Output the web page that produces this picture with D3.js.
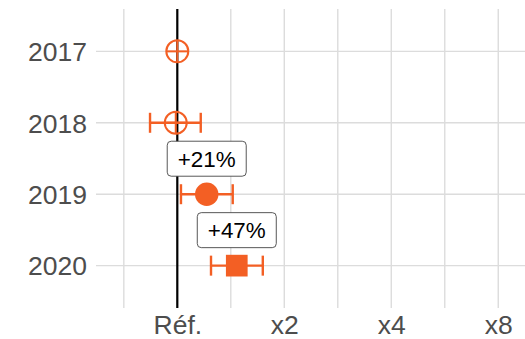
<!DOCTYPE html>
<html>
<head>
<meta charset="utf-8">
<script src="https://cdn.jsdelivr.net/npm/d3@7"></script>
<style>
  html, body { margin: 0; padding: 0; background: #fff; }
  svg { display: block; font-family: "Liberation Sans", Arial, sans-serif; }
</style>
</head>
<body>
<svg id="chart" width="525" height="339"></svg>
<script>
// Yearly ratios relative to the reference year, with confidence bounds
const years = ["2017", "2018", "2019", "2020"];
const ratio = [1.00, 0.99, 1.21, 1.47];
const lower = [1.00, 0.838, 1.024, 1.244];
const upper = [1.00, 1.164, 1.432, 1.74];
const shapes = ["open", "open", "circle", "square"];
const labels = [null, null, "+21%", "+47%"];

const xTickValues = [1, 2, 4, 8];
const xTickLabels = ["Réf.", "x2", "x4", "x8"];
const xMinorValues = [Math.SQRT1_2, Math.SQRT2, 2 * Math.SQRT2, 4 * Math.SQRT2];

const orange = "#f35f24";
const gridColor = "#dcdcdc";

const svg = d3.select("#chart");
const panel = { left: 96, right: 525, top: 9, bottom: 308 };

const x = d3.scaleLog().base(2)
  .domain([Math.pow(2, -0.76), Math.pow(2, 3.25)])
  .range([panel.left, panel.right]);

const y = d3.scalePoint()
  .domain(years)
  .range([panel.top, panel.bottom])
  .padding(0.593);

// Gridlines
const grid = svg.append("g");
grid.selectAll("line.v")
  .data(xTickValues.concat(xMinorValues))
  .join("line")
  .attr("x1", d => x(d)).attr("x2", d => x(d))
  .attr("y1", panel.top).attr("y2", panel.bottom)
  .attr("stroke", gridColor).attr("stroke-width", 1.4);
grid.selectAll("line.h")
  .data(years)
  .join("line")
  .attr("x1", panel.left).attr("x2", panel.right)
  .attr("y1", d => y(d)).attr("y2", d => y(d))
  .attr("stroke", gridColor).attr("stroke-width", 1.4);

// Axes (text only)
const yAxis = svg.append("g")
  .attr("transform", `translate(${panel.left},0)`)
  .call(d3.axisLeft(y).tickSize(0).tickPadding(9));
yAxis.select(".domain").remove();
yAxis.selectAll("text")
  .attr("font-size", 26.5).attr("fill", "#4d4d4d")
  .attr("font-family", "Liberation Sans, Arial, sans-serif")
  .attr("dy", "0.35em");

const xAxis = svg.append("g")
  .attr("transform", `translate(0,${panel.bottom})`)
  .call(d3.axisBottom(x).tickValues(xTickValues)
    .tickFormat((d, i) => xTickLabels[i]).tickSize(0).tickPadding(7));
xAxis.select(".domain").remove();
xAxis.selectAll("text")
  .attr("font-size", 26.5).attr("fill", "#4d4d4d")
  .attr("font-family", "Liberation Sans, Arial, sans-serif")
  .attr("dy", "0.71em");

// Reference line at ratio 1
svg.append("line")
  .attr("x1", x(1)).attr("x2", x(1))
  .attr("y1", panel.top).attr("y2", panel.bottom)
  .attr("stroke", "#000").attr("stroke-width", 2.2);

const rows = years.map((yr, i) => ({
  year: yr, r: ratio[i], lo: lower[i], hi: upper[i], shape: shapes[i], label: labels[i]
}));

// Error bars
const eb = svg.append("g").attr("stroke", orange).attr("stroke-width", 2.4).attr("fill", "none");
const capH = 10;
rows.filter(d => d.hi > d.lo).forEach(d => {
  const cy = y(d.year);
  eb.append("line").attr("x1", x(d.lo)).attr("x2", x(d.hi)).attr("y1", cy).attr("y2", cy);
  eb.append("line").attr("x1", x(d.lo)).attr("x2", x(d.lo)).attr("y1", cy - capH).attr("y2", cy + capH);
  eb.append("line").attr("x1", x(d.hi)).attr("x2", x(d.hi)).attr("y1", cy - capH).attr("y2", cy + capH);
});

// Points
const pts = svg.append("g");
rows.forEach(d => {
  const cx = x(d.r), cy = y(d.year);
  if (d.shape === "open") {
    const r = 11;
    const g = pts.append("g").attr("stroke", orange).attr("stroke-width", 2).attr("fill", "none");
    g.append("circle").attr("cx", cx).attr("cy", cy).attr("r", r);
    g.append("line").attr("x1", cx - r).attr("x2", cx + r).attr("y1", cy).attr("y2", cy);
    g.append("line").attr("x1", cx).attr("x2", cx).attr("y1", cy - r).attr("y2", cy + r);
  } else if (d.shape === "circle") {
    pts.append("circle").attr("cx", cx).attr("cy", cy).attr("r", 11.7).attr("fill", orange);
  } else {
    const s = 21.7;
    pts.append("rect").attr("x", cx - s / 2).attr("y", cy - s / 2)
      .attr("width", s).attr("height", s).attr("fill", orange);
  }
});

// Value labels
const lab = svg.append("g");
rows.filter(d => d.label).forEach(d => {
  const cx = x(d.r), cy = y(d.year) - 35.5;
  const w = 79, h = 35;
  lab.append("rect")
    .attr("x", cx - w / 2).attr("y", cy - h / 2)
    .attr("width", w).attr("height", h)
    .attr("rx", 4).attr("ry", 4)
    .attr("fill", "#fff").attr("stroke", "#444").attr("stroke-width", 0.9);
  lab.append("text")
    .attr("x", cx).attr("y", cy)
    .attr("text-anchor", "middle").attr("dy", "0.36em")
    .attr("font-size", 22.4).attr("fill", "#000")
    .text(d.label);
});
</script>
</body>
</html>
